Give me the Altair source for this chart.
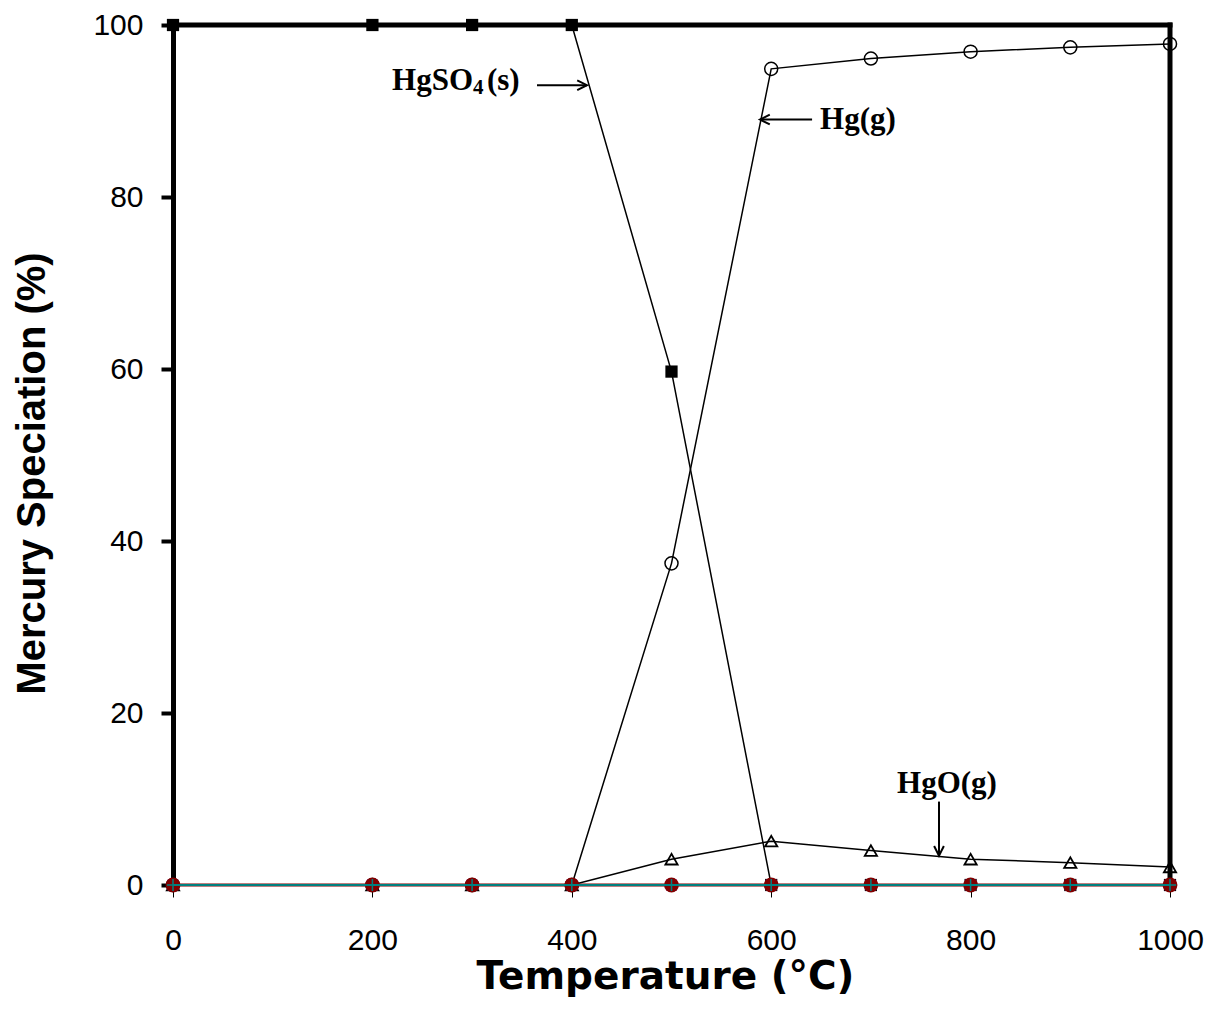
import altair as alt
import pandas as pd

# ---------------- data ----------------
temperature = [0, 200, 300, 400, 500, 600, 700, 800, 900, 1000]
hgso4_s = [100, 100, 100, 100, 59.7, 0, 0, 0, 0, 0]
hg_g = [0, 0, 0, 0, 37.4, 94.9, 96.1, 96.9, 97.4, 97.8]
hgo_g = [0, 0, 0, 0, 3.0, 5.1, 4.0, 3.0, 2.6, 2.1]
minor_purple = [0, 0, 0, 0, 0, 0, 0, 0, 0, 0]
minor_red = [0, 0, 0, 0, 0, 0, 0, 0, 0, 0]
minor_teal = [0, 0, 0, 0, 0, 0, 0, 0, 0, 0]

x_ticks = [0, 200, 400, 600, 800, 1000]
y_ticks = [0, 20, 40, 60, 80, 100]

# annotation labels (text parts, positions in data units)
label_text = ["HgSO", "4", "(s)", "Hg(g)", "HgO(g)"]
label_x = [219.7, 300.9, 314.9, 649.0, 726.2]
label_y = [92.4, 92.0, 92.4, 87.9, 10.7]
label_size = [31, 21, 31, 31, 31]

# annotation arrows
arrow_x1 = [365.1, 641.0, 768.3]
arrow_x2 = [415.2, 588.8, 768.3]
arrow_y1 = [93.0, 89.0, 9.7]
arrow_y2 = [93.0, 89.0, 3.4]
arrow_dir = ["right", "left", "down"]

# frame lines (top and right)
frame_x1 = [0, 1000]
frame_x2 = [1000, 1000]
frame_y1 = [100, 0]
frame_y2 = [100, 100]

# ---------------- encodings ----------------
x_axis = alt.Axis(
    values=x_ticks, grid=False, title="Temperature (°C)", format="d",
    labelFlush=False, labelOverlap=False,
    labelFont="Liberation Sans", labelFontSize=30, labelColor="black",
    labelPadding=28, tickSize=12, tickWidth=1, tickColor="black",
    domainColor="black", domainWidth=1,
    titleFont="DejaVu Sans", titleFontSize=39, titleFontWeight="bold",
    titleColor="black", titleX=492, titleY=72,
)
y_axis = alt.Axis(
    values=y_ticks, grid=False, title="Mercury Speciation (%)", format="d",
    labelFlush=False, labelOverlap=False,
    labelFont="Liberation Sans", labelFontSize=30, labelColor="black",
    labelPadding=18, tickSize=12, tickWidth=4, tickColor="black",
    domainColor="black", domainWidth=5,
    titleFont="Liberation Sans", titleFontSize=40, titleFontWeight="bold",
    titleColor="black", titleX=-121, titleY=448,
)
X = alt.X("x:Q", scale=alt.Scale(domain=[0, 1000], nice=False, zero=False), axis=x_axis)
Y = alt.Y("y:Q", scale=alt.Scale(domain=[0, 100], nice=False), axis=y_axis)

layers = []

frame_df = pd.DataFrame({"x": frame_x1, "x2": frame_x2, "y": frame_y1, "y2": frame_y2})
layers.append(
    alt.Chart(frame_df).mark_rule(color="black", strokeWidth=5, strokeCap="square")
    .encode(x=X, x2="x2:Q", y=Y, y2="y2:Q")
)

PLUS = "M-1,0L1,0M0,-1L0,1"
CROSS = "M-1,-1L1,1M-1,1L1,-1"

series = [
    # values, line color, line width, shape, point color, filled, size, stroke width
    (hgso4_s, "black", 1.5, "square", "black", True, 150, 1),
    (hg_g, "black", 1.5, "circle", "black", False, 170, 1.5),
    (hgo_g, "black", 1.5, "triangle-up", "black", False, 150, 1.8),
    (minor_purple, "#800080", 2, CROSS, "#a000a0", False, 110, 1.5),
    (minor_red, "#800000", 3, "circle", "#800000", True, 220, 1),
    (minor_teal, "#008080", 2, PLUS, "#008080", False, 150, 1.5),
]

for vals, lc, lw, shape, pc, filled, size, sw in series:
    df = pd.DataFrame({"x": temperature, "y": vals})
    base = alt.Chart(df)
    layers.append(base.mark_line(color=lc, strokeWidth=lw).encode(x=X, y=Y))
    if filled:
        pt = base.mark_point(shape=shape, filled=True, fill=pc, color=pc,
                             size=size, opacity=1, strokeWidth=sw)
    else:
        pt = base.mark_point(shape=shape, filled=False, color=pc,
                             size=size, opacity=1, strokeWidth=sw)
    layers.append(pt.encode(x=X, y=Y))

# arrows
arrow_df = pd.DataFrame({"x": arrow_x1, "x2": arrow_x2, "y": arrow_y1,
                         "y2": arrow_y2, "dir": arrow_dir})
layers.append(
    alt.Chart(arrow_df).mark_rule(color="black", strokeWidth=2)
    .encode(x=X, x2="x2:Q", y=Y, y2="y2:Q")
)
head_df = pd.DataFrame({"x": arrow_x2, "y": arrow_y2, "dir": arrow_dir})
layers.append(
    alt.Chart(head_df).mark_point(filled=False, color="black", strokeWidth=2,
                                  size=380, opacity=1)
    .encode(
        x=X, y=Y,
        shape=alt.Shape("dir:N", legend=None, scale=alt.Scale(
            domain=["right", "left", "down"],
            range=["M-1,-0.5L0,0L-1,0.5", "M1,-0.5L0,0L1,0.5", "M-0.5,-1L0,0L0.5,-1"],
        )),
    )
)

# labels
label_df = pd.DataFrame({"x": label_x, "y": label_y, "t": label_text, "s": label_size})
layers.append(
    alt.Chart(label_df).mark_text(font="Liberation Serif", fontWeight="bold",
                                  align="left", baseline="alphabetic", color="black")
    .encode(x=X, y=Y, text="t:N", size=alt.Size("s:Q", scale=None, legend=None))
)

chart = (
    alt.layer(*layers)
    .properties(
        width=997, height=860,
        autosize=alt.AutoSizeParams(type="none"),
        padding={"left": 165, "top": 17, "right": 34, "bottom": 118},
    )
    .configure_view(stroke=None)
)

chart.save("out.html", embed_options={"renderer": "svg", "actions": False})
